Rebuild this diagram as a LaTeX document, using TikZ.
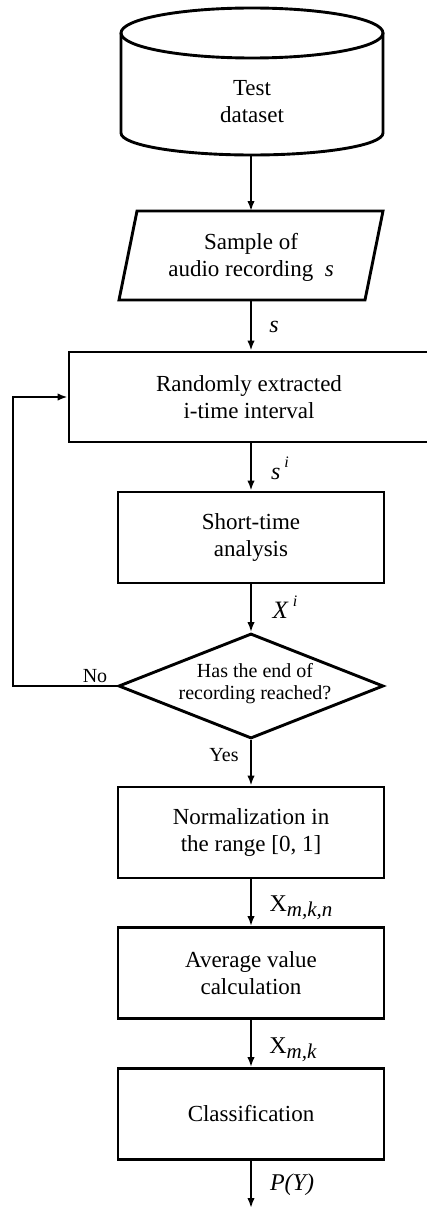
\documentclass[tikz,border=0pt]{standalone}
\usepackage{fontspec}
\setmainfont{Liberation Serif}
\usetikzlibrary{arrows.meta,shapes.geometric}
\begin{document}
\begin{tikzpicture}[x=1pt,y=-1pt, line width=2.9pt,
  box/.style={draw, minimum width=266pt, minimum height=91pt, align=center,
    font=\fontsize{23}{27}\selectfont, inner sep=0pt},
  arr/.style={-{Latex[length=10pt,width=7.5pt]}},
  lab/.style={font=\fontsize{24}{27}\selectfont, inner sep=0pt},
  small/.style={font=\fontsize{20}{22}\selectfont, inner sep=0pt, align=center}]
\useasboundingbox (0,0) rectangle (427,1209);
% cylinder
\draw (252,33) ellipse [x radius=131pt, y radius=25pt];
\draw (121,33) -- (121,133) arc[start angle=180, end angle=360, x radius=131pt, y radius=22pt] -- (383,33);
\node[lab, font=\fontsize{23}{27}\selectfont, align=center] (db) at (252,102) {Test\\dataset};
\coordinate (dbb) at (251,155);
% parallelogram
\draw (137,211) -- (383,211) -- (365,300) -- (119,300) -- cycle;
\node[lab, font=\fontsize{23}{27}\selectfont, align=center] (par) at (251,257) {Sample of\\ audio recording\ \ \textit{s}};
\coordinate (part) at (251,211);
\coordinate (parb) at (251,300);
\draw[arr] (dbb) -- (part);
% random box
\node[box, minimum width=360pt, minimum height=90pt] (r1) at (249,397) {Randomly extracted\\i-time interval};
\draw[arr] (parb) -- (parb |- r1.north);
\node[lab] (ls) at (274,327) {\textit{s}};
% short-time
\node[box] (st) at (251,537.5) {Short-time\\analysis};
\draw[arr] (r1.south -| st.north) -- (st.north);
\node[lab] (lsi) at (280,468) {\textit{s}\,\raisebox{0.5em}{\fontsize{16}{16}\selectfont\textit{i}}};
% decision
\node[diamond, draw, minimum width=265pt, minimum height=105pt, inner sep=0pt] (dec) at (251,686) {};
\node[small] (dect) at (255,684) {Has the end of\\recording reached?};
\draw[arr] (st.south) -- (dec.north);
\node[lab] (lxi) at (285,607) {\fontsize{25}{27}\selectfont\textit{X}\,\raisebox{0.5em}{\fontsize{16}{16}\selectfont\textit{i}}};
\coordinate (fb) at (13,686);
\draw[arr] (dec.west) -- (fb) |- (r1.west);
\node[small] (no) at (95,676) {No};
% normalization
\node[box] (nm) at (251,832.5) {Normalization in\\the range [0, 1]};
\draw[arr] (dec.south) -- (nm.north);
\node[small] (yes) at (224,755) {Yes};
% average
\node[box] (av) at (251,973) {Average value\\calculation};
\draw[arr] (nm.south) -- (av.north);
\node[lab] (lx1) at (301,908) {X\raisebox{-0.2em}{\fontsize{21}{21}\selectfont\textit{m,k,n}}};
% classification
\node[box] (cl) at (251,1114) {Classification};
\draw[arr] (av.south) -- (cl.north);
\node[lab] (lx2) at (293,1050) {X\raisebox{-0.2em}{\fontsize{21}{21}\selectfont\textit{m,k}}};
\coordinate (end) at (251,1208);
\draw[arr] (cl.south) -- (end);
\node[lab] (lp) at (292,1185) {\textit{P(Y)}};
\end{tikzpicture}
\end{document}
